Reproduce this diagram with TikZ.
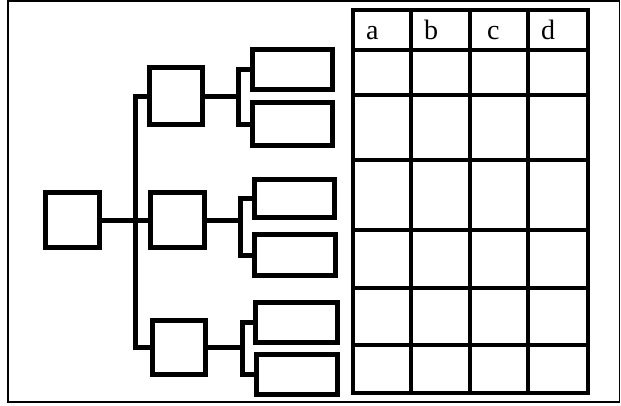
\documentclass[tikz,border=0pt]{standalone}
\usepackage{fontspec}
\setmainfont{Liberation Serif}
\begin{document}
\begin{tikzpicture}[x=1pt,y=-1pt,
  bx/.style={draw,line width=5pt,inner sep=0pt,outer sep=0pt,minimum width=#1},
  conn/.style={line width=5pt},
  grid/.style={line width=4pt,line cap=rect},
  lbl/.style={anchor=base west,inner sep=0pt,font=\fontsize{28}{28}\selectfont}]
\useasboundingbox (0,0) rectangle (621,405);
\draw[line width=1.5pt] (8,1) rectangle (619.5,402);
% tree boxes
\node[bx=54pt,minimum height=55pt] (R) at (72.5,220) {};
\node[bx=53pt,minimum height=57pt] (M1) at (176,96) {};
\node[bx=54pt,minimum height=55pt] (M2) at (177.5,220) {};
\node[bx=53pt,minimum height=54pt] (M3) at (179,347.5) {};
\node[bx=80pt,minimum height=40pt] (L1) at (292.5,69.5) {};
\node[bx=80pt,minimum height=43pt] (L2) at (292.5,124) {};
\node[bx=80pt,minimum height=38pt] (L3) at (294.5,198.5) {};
\node[bx=81pt,minimum height=41pt] (L4) at (295,255) {};
\node[bx=82pt,minimum height=40pt] (L5) at (296.5,322.5) {};
\node[bx=81pt,minimum height=40pt] (L6) at (297,374.5) {};
\coordinate (T) at (135,0);
\coordinate (B1) at (238,0);
\coordinate (B2) at (240,0);
\coordinate (B3) at (242,0);
% connectors
\draw[conn] (R.east) -- (M2.west);
\draw[conn] (M1.west) -- (M1.west -| T) |- (M3.west);
\draw[conn] (M1.east) -- (M1.east -| B1);
\draw[conn] (L1.west) -- (L1.west -| B1) |- (L2.west);
\draw[conn] (M2.east) -- (M2.east -| B2);
\draw[conn] (L3.west) -- (L3.west -| B2) |- (L4.west);
\draw[conn] (M3.east) -- (M3.east -| B3);
\draw[conn] (L5.west) -- (L5.west -| B3) |- (L6.west);
% table
\foreach \y in {10,50,95,160,230,288,345,393} \draw[grid] (353,\y) -- (588,\y);
\foreach \x in {353,411,470,528,588} \draw[grid] (\x,10) -- (\x,393);
\node[lbl] (ha) at (366,39) {a};
\node[lbl] (hb) at (424,39) {b};
\node[lbl] (hc) at (487,39) {c};
\node[lbl] (hd) at (541,39) {d};
\end{tikzpicture}
\end{document}
